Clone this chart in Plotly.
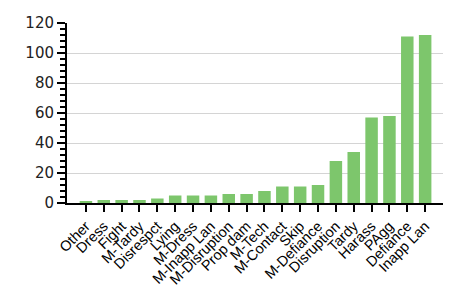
import plotly.graph_objects as go

categories = ["Other", "Dress", "Fight", "M-Tardy", "Disrespct", "Lying", "M-Dress",
              "M-Inapp Lan", "M-Disruption", "Prop dam", "M-Tech", "M-Contact", "Skip",
              "M-Defiance", "Disruption", "Tardy", "Harass", "PAgg", "Defiance", "Inapp Lan"]
values = [1, 2, 2, 2, 3, 5, 5, 5, 6, 6, 8, 11, 11, 12, 28, 34, 57, 58, 111, 112]
y_ticks = [0, 20, 40, 60, 80, 100, 120]

fig = go.Figure(go.Bar(x=categories, y=values, marker_color="#7dc66c",
                       marker_line_width=0))
fig.update_layout(
    width=466, height=294,
    margin=dict(l=67, r=23, t=23, b=91, autoexpand=False),
    paper_bgcolor="white", plot_bgcolor="white",
    bargap=0.3,
    font=dict(family="Liberation Sans, Arial", size=13, color="#222"),
    showlegend=False,
)
fig.update_xaxes(
    range=[-1.06, 20.0], automargin=False,
    tickangle=-45, ticks="outside", ticklen=7, tickcolor="black", tickwidth=1.5,
    showline=True, linecolor="black", linewidth=2, showgrid=False,
    tickfont=dict(size=14.5, color="black"),
)
fig.update_yaxes(
    range=[0, 120], tickvals=y_ticks, ticks="outside", ticklen=8, tickcolor="black",
    tickwidth=1.5, showline=True, linecolor="black", linewidth=2, automargin=False,
    showgrid=True, gridcolor="#d4d4d4", gridwidth=1, zeroline=False,
    minor=dict(dtick=4, ticks="outside", ticklen=5, tickcolor="black", tickwidth=1.5,
               showgrid=False),
    tickfont=dict(size=15, family="DejaVu Sans", color="#222"),
)
fig.write_html("out.html")
